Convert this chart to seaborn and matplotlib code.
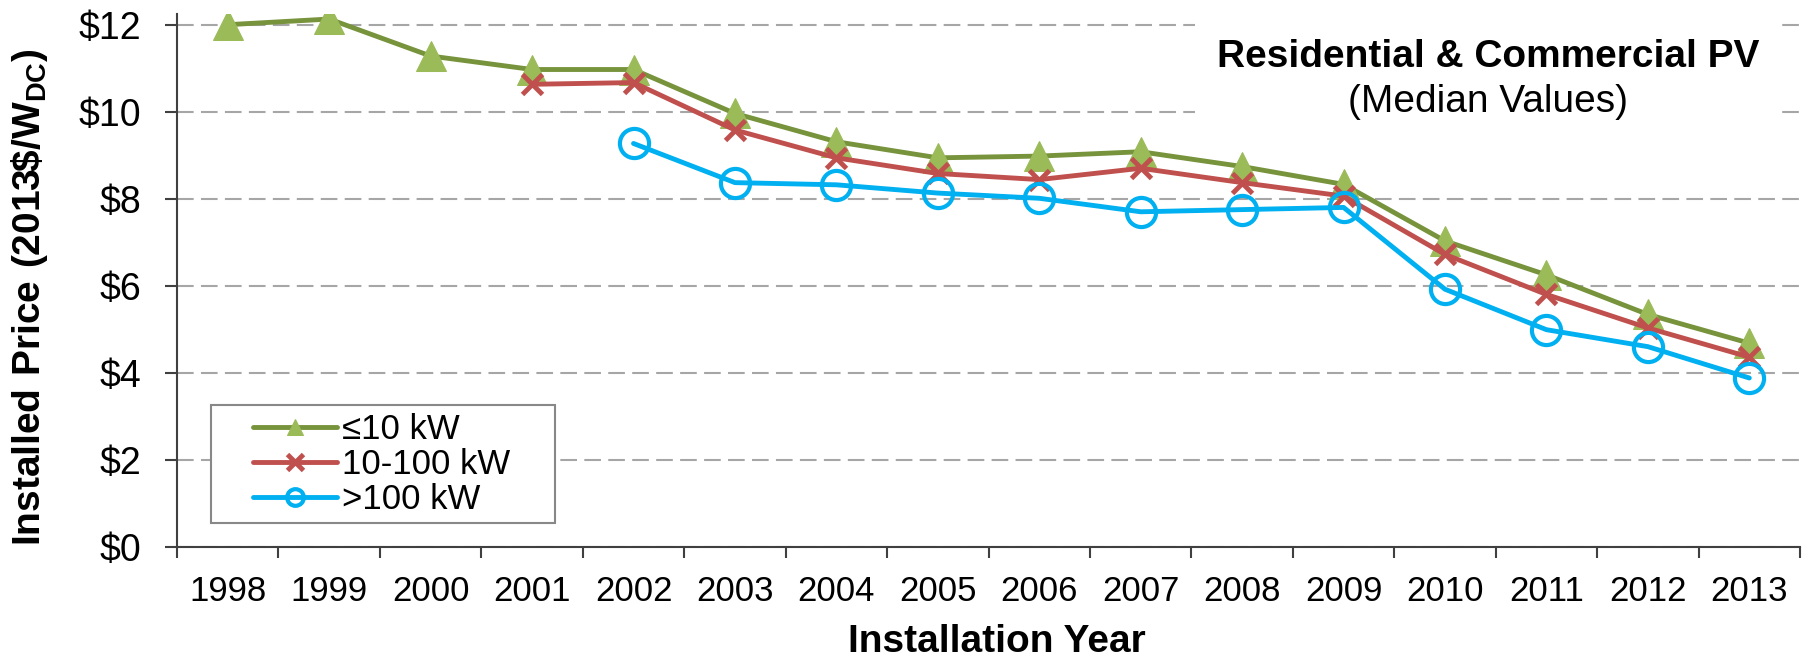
import numpy as np
import pandas as pd
import seaborn as sns
import matplotlib.pyplot as plt
from matplotlib.patches import Rectangle
from matplotlib.ticker import FixedLocator, NullFormatter, FixedFormatter

years = [1998, 1999, 2000, 2001, 2002, 2003, 2004, 2005,
         2006, 2007, 2008, 2009, 2010, 2011, 2012, 2013]
small = [12.0, 12.13, 11.28, 10.97, 10.97, 9.96, 9.31, 8.94,
         8.98, 9.08, 8.74, 8.33, 7.03, 6.25, 5.34, 4.68]
medium = [np.nan, np.nan, np.nan, 10.63, 10.67, 9.58, 8.94, 8.58,
          8.44, 8.70, 8.37, 8.06, 6.72, 5.80, 5.03, 4.36]
large = [np.nan, np.nan, np.nan, np.nan, 9.27, 8.37, 8.32, 8.13,
         8.01, 7.70, 7.75, 7.80, 5.92, 4.99, 4.60, 3.88]
labels = ["\u226410 kW", "10-100 kW", ">100 kW"]
yticks = [0, 2, 4, 6, 8, 10, 12]

df = pd.DataFrame({"pos": np.arange(len(years)), "small": small,
                   "medium": medium, "large": large})

sns.set_style("white")
plt.rcParams["font.family"] = ["Liberation Sans", "DejaVu Sans"]
plt.rcParams["mathtext.fontset"] = "custom"
plt.rcParams["mathtext.rm"] = "Liberation Sans"
plt.rcParams["mathtext.bf"] = "Liberation Sans:bold"
for k in ["text.color", "axes.labelcolor", "xtick.color", "ytick.color"]:
    plt.rcParams[k] = "black"

fig = plt.figure(figsize=(18.14, 6.58), dpi=100)
ax = fig.add_axes([0.0976, 0.169, 0.8947, 0.81])

sns.lineplot(data=df, x="pos", y="small", ax=ax, color="#77933C", lw=3.5,
             marker="^", markersize=21, markerfacecolor="#9BBB59",
             markeredgecolor="#9BBB59", label=labels[0], zorder=3)
sns.lineplot(data=df, x="pos", y="medium", ax=ax, color="#C0504D", lw=3.5,
             marker="x", markersize=15, markeredgewidth=3.5,
             markeredgecolor="#C0504D", label=labels[1], zorder=4)
sns.lineplot(data=df, x="pos", y="large", ax=ax, color="#00B0F0", lw=3.5,
             marker="o", markersize=21, markerfacecolor="none",
             markeredgewidth=3, markeredgecolor="#00B0F0", label=labels[2], zorder=5)

ax.set_xlim(-0.5, len(years) - 0.5)
ax.set_ylim(0, 12.25)

# category axis: ticks between years, labels centred
ax.xaxis.set_major_locator(FixedLocator(np.arange(-0.5, len(years), 1.0)))
ax.xaxis.set_major_formatter(NullFormatter())
ax.xaxis.set_minor_locator(FixedLocator(np.arange(len(years))))
ax.xaxis.set_minor_formatter(FixedFormatter([str(y) for y in years]))
ax.tick_params(axis="x", which="major", length=8, width=1.5, color="#404040", direction="out", bottom=True)
ax.tick_params(axis="x", which="minor", length=0, pad=20, labelsize=25)

ax.set_yticks(yticks)
ax.set_yticklabels([f"${v}" for v in yticks])
ax.tick_params(axis="y", length=8.5, width=1.5, color="#404040", direction="out", left=True, pad=17, labelsize=27)

ax.grid(axis="y", linestyle=(0, (8, 3.5)), color="#A6A6A6", lw=1.5)
ax.set_axisbelow(True)
for side in ["top", "right"]:
    ax.spines[side].set_visible(False)
for side in ["left", "bottom"]:
    ax.spines[side].set_color("#404040")
    ax.spines[side].set_linewidth(1.5)

# white box behind the title text
ax.add_patch(Rectangle((0.627, 0.78), 0.362, 0.24, transform=ax.transAxes,
                       facecolor="white", edgecolor="none", zorder=1, clip_on=False))
ax.text(0.808, 11.03, "Residential & Commercial PV", transform=ax.get_yaxis_transform(),
        ha="center", va="baseline", fontsize=28, fontweight="bold")
ax.text(0.808, 10.0, "(Median Values)", transform=ax.get_yaxis_transform(),
        ha="center", va="baseline", fontsize=28)

ax.set_xlabel("Installation Year", fontsize=28, fontweight="bold")
ax.xaxis.set_label_coords(0.505, -0.145)
ax.set_ylabel(r"$\mathbf{Installed\ Price\ (2013\$/W_{DC})}$", fontsize=28)
ax.yaxis.set_label_coords(-0.078, 0.469)

# legend: frame drawn separately so the side padding can be wide
ax.add_patch(Rectangle((0.021, 0.045), 0.212, 0.221, transform=ax.transAxes,
                       facecolor="white", edgecolor="#888888", lw=1.5, zorder=6))
leg = ax.legend(loc="center left", bbox_to_anchor=(0.0468, 0.154), fontsize=25,
                frameon=False, handlelength=2.42, handletextpad=0.15,
                borderpad=0, labelspacing=0.05, borderaxespad=0)
leg.set_zorder(7)
for h in leg.legend_handles:
    h.set_markersize(12)

fig.savefig("out.png", dpi=100)
